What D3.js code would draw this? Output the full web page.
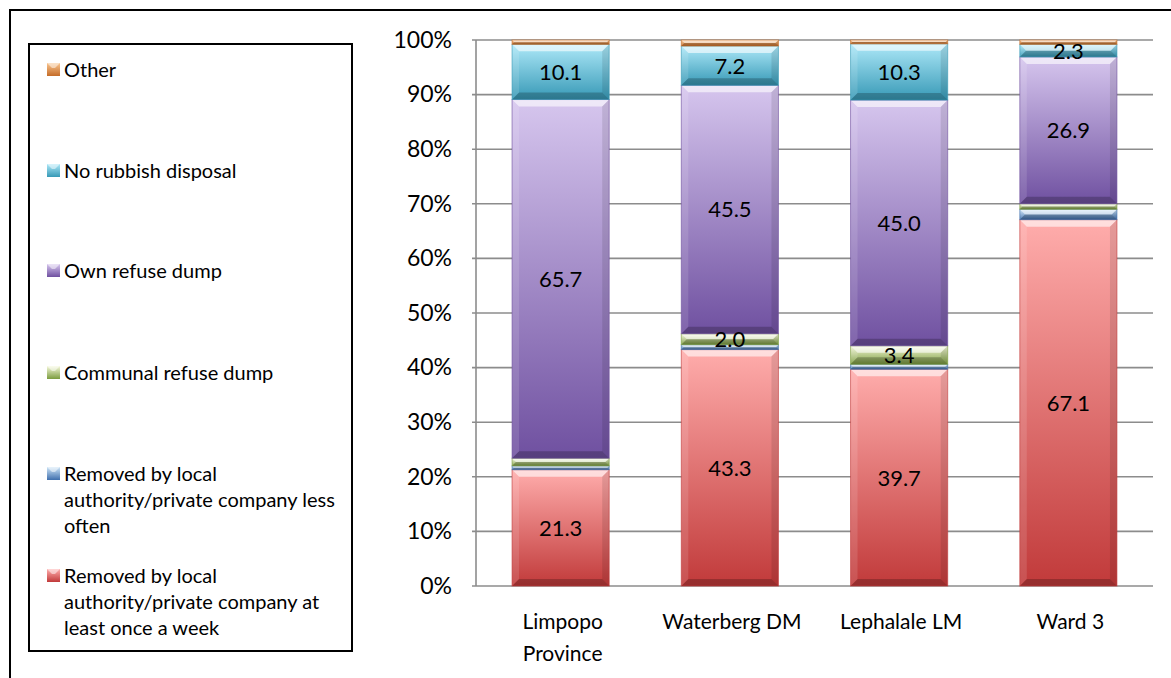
<!DOCTYPE html>
<html><head><meta charset="utf-8">
<script src="https://cdn.jsdelivr.net/npm/d3@7"></script>
<style>body{margin:0;background:#fff;}svg{display:block;font-family:Lato,"Open Sans",sans-serif;}</style>
</head><body><svg id="c" width="1171" height="678"></svg>
<script>
const categories = ["Limpopo Province", "Waterberg DM", "Lephalale LM", "Ward 3"];
const seriesNames = [
  "Removed by local authority/private company at least once a week",
  "Removed by local authority/private company less often",
  "Communal refuse dump",
  "Own refuse dump",
  "No rubbish disposal",
  "Other"
];
const removedWeekly = [21.3, 43.3, 39.7, 67.1];
const removedLessOften = [0.7, 0.9, 0.9, 1.9];
const communalDump = [1.4, 2.0, 3.4, 1.0];
const ownDump = [65.7, 45.5, 45.0, 26.9];
const noDisposal = [10.1, 7.2, 10.3, 2.3];
const other = [0.8, 1.1, 0.7, 0.8];
const yTicks = [0, 10, 20, 30, 40, 50, 60, 70, 80, 90, 100];

const seriesValues = [removedWeekly, removedLessOften, communalDump, ownDump, noDisposal, other];
const colors = [
  ["#ffadac", "#c13a3a"],
  ["#cfe6f8", "#3f6fad"],
  ["#f6f9dc", "#7b9c3e"],
  ["#d6c6ee", "#6f50a0"],
  ["#ade8f8", "#3799b6"],
  ["#f9c58f", "#c56c28"]
];

const svg = d3.select("#c");
const defs = svg.append("defs");
colors.forEach((c, i) => {
  const g = defs.append("linearGradient").attr("id", "g" + i).attr("x1", 0).attr("y1", 0).attr("x2", 0).attr("y2", 1);
  g.append("stop").attr("offset", "0%").attr("stop-color", c[0]);
  g.append("stop").attr("offset", "100%").attr("stop-color", c[1]);
});

// outer border
svg.append("rect").attr("x", 10).attr("y", 10).attr("width", 1300).attr("height", 800)
  .attr("fill", "none").attr("stroke", "#000").attr("stroke-width", 2);

const plot = {left: 476, right: 1153, top: 40, bottom: 586};
const x = d3.scaleBand().domain(categories).range([plot.left, plot.right]).paddingInner(0.426).paddingOuter(0.213);
const y = d3.scaleLinear().domain([0, 100]).range([plot.bottom, plot.top]);

// gridlines
svg.append("g").selectAll("line").data(yTicks).join("line")
  .attr("x1", plot.left - 4).attr("x2", plot.right)
  .attr("y1", d => y(d)).attr("y2", d => y(d))
  .attr("stroke", "#8c8c8c").attr("stroke-width", 1.6);
svg.append("line").attr("x1", plot.left).attr("x2", plot.left).attr("y1", plot.top).attr("y2", plot.bottom)
  .attr("stroke", "#8c8c8c").attr("stroke-width", 1.6);

// y axis labels
const yAxis = d3.axisLeft(y).tickValues(yTicks).tickFormat(d => d + "%").tickSize(0).tickPadding(24);
const ya = svg.append("g").attr("transform", `translate(${plot.left},0)`).call(yAxis);
ya.select(".domain").remove();
ya.selectAll("text").attr("font-size", 23).attr("fill", "#000").attr("font-family", "Lato, sans-serif");

// stack
const table = categories.map((c, i) => {
  const o = {cat: c};
  seriesNames.forEach((s, j) => o[s] = seriesValues[j][i]);
  return o;
});
const stacked = d3.stack().keys(seriesNames)(table);

const bw = x.bandwidth();
stacked.forEach((layer, si) => {
  const g = svg.append("g");
  layer.forEach((d, ci) => {
    const x0 = x(d.data.cat), x1 = x0 + bw;
    const yt = y(d[1]), yb = y(d[0]);
    const h = yb - yt;
    const seg = g.append("g");
    seg.append("rect").attr("x", x0).attr("y", yt).attr("width", bw).attr("height", h)
      .attr("fill", `url(#g${si})`);
    const b = Math.min(7, h / 2);
    seg.append("polygon").attr("points", [[x0, yt], [x1, yt], [x1 - b, yt + b], [x0 + b, yt + b]].join(" "))
      .attr("fill", "#fff").attr("opacity", 0.6);
    seg.append("polygon").attr("points", [[x0, yt], [x0 + b, yt + b], [x0 + b, yb - b], [x0, yb]].join(" "))
      .attr("fill", "#fff").attr("opacity", 0.12);
    seg.append("polygon").attr("points", [[x1, yt], [x1 - b, yt + b], [x1 - b, yb - b], [x1, yb]].join(" "))
      .attr("fill", "#000").attr("opacity", 0.1);
    seg.append("polygon").attr("points", [[x0, yb], [x0 + b, yb - b], [x1 - b, yb - b], [x1, yb]].join(" "))
      .attr("fill", "#000").attr("opacity", 0.22);
    seg.append("rect").attr("x", x0).attr("y", yt).attr("width", bw).attr("height", h)
      .attr("fill", "none").attr("stroke", colors[si][1]).attr("stroke-opacity", 0.6).attr("stroke-width", 1);
  });
});

// data labels
stacked.forEach((layer, si) => {
  svg.append("g").selectAll("text").data(layer.filter(d => (d[1] - d[0]) >= 2)).join("text")
    .attr("x", d => x(d.data.cat) + bw / 2)
    .attr("y", d => (y(d[0]) + y(d[1])) / 2)
    .attr("dy", "0.36em")
    .attr("text-anchor", "middle").attr("font-size", 22).attr("fill", "#000")
    .text(d => (d[1] - d[0]).toFixed(1));
});

// x axis labels with wrap
const xg = svg.append("g");
categories.forEach(c => {
  const cx = x(c) + bw / 2 + 2;
  const t = xg.append("text").attr("x", cx).attr("y", 629)
    .attr("text-anchor", "middle").attr("font-size", 21).attr("fill", "#000");
  const words = c.split(" ");
  let line = [];
  let ts = t.append("tspan").attr("x", cx).attr("dy", 0);
  words.forEach(w => {
    line.push(w);
    ts.text(line.join(" "));
    if (ts.node().getComputedTextLength() > 150 && line.length > 1) {
      line.pop(); ts.text(line.join(" "));
      line = [w];
      ts = t.append("tspan").attr("x", cx).attr("dy", "32px").text(w);
    }
  });
});

// legend
svg.append("rect").attr("x", 29).attr("y", 44).attr("width", 323).attr("height", 607)
  .attr("fill", "#fff").attr("stroke", "#000").attr("stroke-width", 2);
const legendOrder = d3.range(seriesNames.length).reverse();
const legendY = [70, 171, 271, 373, 474, 576];
const legendLines = seriesNames.map(s => {
  if (s.startsWith("Removed by local")) {
    const rest = s.replace("Removed by local authority/private company ", "");
    return ["Removed by local", "authority/private company " + (rest === "less often" ? "less" : "at"), rest === "less often" ? "often" : "least once a week"];
  }
  return [s];
});
legendOrder.forEach((si, k) => {
  const ly = legendY[k];
  const g = svg.append("g");
  g.append("rect").attr("x", 47).attr("y", ly - 7).attr("width", 13).attr("height", 13).attr("fill", `url(#g${si})`);
  g.append("polygon").attr("points", [[47, ly - 7], [60, ly - 7], [55, ly - 2], [52, ly - 2]].join(" ")).attr("fill", "#fff").attr("opacity", 0.5);
  const t = g.append("text").attr("x", 64).attr("y", ly).attr("font-size", 20).attr("fill", "#000");
  legendLines[si].forEach((l, i) => t.append("tspan").attr("x", 64).attr("dy", i === 0 ? "0.35em" : "26px").text(l));
});
</script></body></html>
